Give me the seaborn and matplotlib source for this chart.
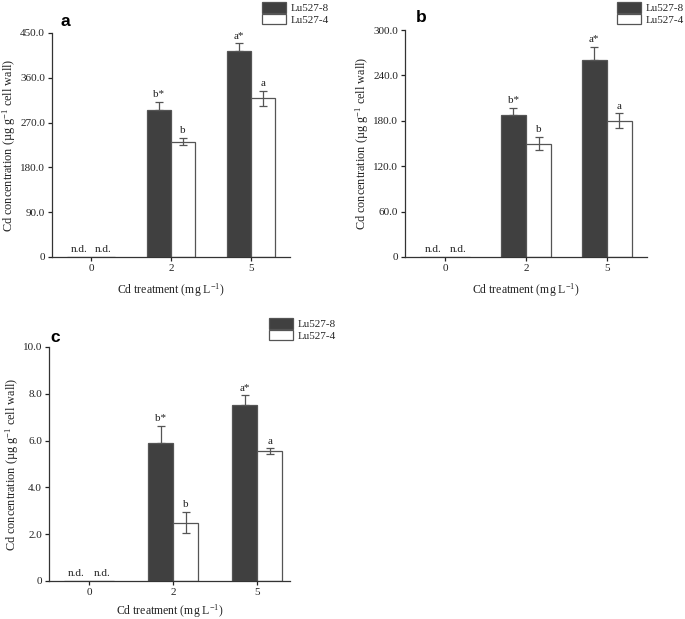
import numpy as np
import pandas as pd
import matplotlib
matplotlib.use("Agg")
import matplotlib.pyplot as plt
import matplotlib.patches as mpatches
import seaborn as sns

# Data
treatments = ["0", "2", "5"]
cultivars = ["Lu527-8", "Lu527-4"]

a_dark = [0, 296, 414]
a_dark_err = [0, 16, 15]
a_white = [0, 232, 319]
a_white_err = [0, 8, 15]
a_letters_dark = ["n.d.", "b*", "a*"]
a_letters_white = ["n.d.", "b", "a"]

b_dark = [0, 187.5, 261]
b_dark_err = [0, 10, 17]
b_white = [0, 150, 180]
b_white_err = [0, 9, 10]
b_letters_dark = ["n.d.", "b*", "a*"]
b_letters_white = ["n.d.", "b", "a"]

c_dark = [0, 5.88, 7.51]
c_dark_err = [0, 0.74, 0.42]
c_white = [0, 2.5, 5.54]
c_white_err = [0, 0.46, 0.13]
c_letters_dark = ["n.d.", "b*", "a*"]
c_letters_white = ["n.d.", "b", "a"]

sns.set_style("ticks")
plt.rcParams["font.family"] = ["Liberation Serif", "DejaVu Serif"]
plt.rcParams["mathtext.fontset"] = "custom"
plt.rcParams["mathtext.rm"] = "Liberation Serif"
plt.rcParams["mathtext.it"] = "Liberation Serif:italic"
plt.rcParams["axes.linewidth"] = 0.9

DARK = "#404040"
EDGE = "#555555"
TXT = "#222222"

fig = plt.figure(figsize=(6.85, 6.19), dpi=100)


def panel(rect, dark, dark_err, white, white_err, let_d, let_w, ymax, ystep,
          xlim, width, letter, letter_xy, leg_xy, xpad=6):
    ax = fig.add_axes(rect)
    df = pd.DataFrame({
        "treatment": treatments * 2,
        "cultivar": [cultivars[0]] * 3 + [cultivars[1]] * 3,
        "value": dark + white,
    })
    sns.barplot(data=df, x="treatment", y="value", hue="cultivar",
                palette={cultivars[0]: DARK, cultivars[1]: "white"},
                width=width, errorbar=None, edgecolor=EDGE, linewidth=0.9,
                saturation=1, legend=False, ax=ax)
    off = ymax * 0.012
    for cont, err, lets, dk in zip(ax.containers, [dark_err, white_err],
                                   [let_d, let_w], [True, False]):
        xs = [b.get_x() + b.get_width() / 2 for b in cont]
        ys = [b.get_height() for b in cont]
        e = np.array(err, dtype=float)
        lower = np.zeros_like(e) if dk else e
        mask = e > 0
        ax.errorbar(np.array(xs)[mask], np.array(ys)[mask],
                    yerr=[lower[mask], e[mask]], fmt="none",
                    ecolor=EDGE, elinewidth=0.9, capsize=3, capthick=0.9,
                    zorder=5)
        for x, y, ee, t in zip(xs, ys, e, lets):
            ax.text(x, y + ee + off, t, ha="center", va="bottom",
                    fontsize=8, color=TXT)
    ax.set_ylim(0, ymax)
    ax.set_xlim(*xlim)
    yt = np.arange(0, ymax + ystep / 2, ystep)
    ax.set_yticks(yt)
    ax.set_yticklabels(["0" if v == 0 else f"{v:.1f}" for v in yt])
    ax.tick_params(axis="both", direction="out", length=3, width=0.9,
                   labelsize=8, colors=TXT, pad=2)
    ax.set_xlabel("Cd treatment (mg L$^{-1}$)", fontsize=8.5, color=TXT,
                  labelpad=xpad)
    ax.set_ylabel("Cd concentration (µg g$^{-1}$ cell wall)", fontsize=8.8,
                  color=TXT, labelpad=1.5)
    for s in ["top", "right"]:
        ax.spines[s].set_visible(False)
    for s in ["left", "bottom"]:
        ax.spines[s].set_color("#333333")
    ax.text(letter_xy[0], letter_xy[1], letter, transform=ax.transAxes,
            fontsize=12.5, fontweight="bold", family="Liberation Sans",
            ha="left", va="bottom", color="black")
    handles = [mpatches.Patch(facecolor=DARK, edgecolor=EDGE, linewidth=0.9),
               mpatches.Patch(facecolor="white", edgecolor=EDGE, linewidth=0.9)]
    ax.legend(handles, cultivars, loc="upper left", bbox_to_anchor=leg_xy,
              bbox_transform=fig.transFigure, frameon=False, fontsize=8,
              handlelength=2.2, handleheight=1.1, handletextpad=0.35,
              labelspacing=0.05, borderpad=0, borderaxespad=0)
    return ax


panel([52 / 685, 1 - 257 / 619, 238 / 685, 224 / 619],
      a_dark, a_dark_err, a_white, a_white_err, a_letters_dark,
      a_letters_white, 450, 90, (-0.4875, 2.4875), 0.6, "a", (0.035, 1.02),
      (262 / 685, 1 - 2 / 619))
panel([405 / 685, 1 - 257 / 619, 242 / 685, 227 / 619],
      b_dark, b_dark_err, b_white, b_white_err, b_letters_dark,
      b_letters_white, 300, 60, (-0.5, 2.5), 0.62, "b", (0.045, 1.02),
      (617 / 685, 1 - 2 / 619))
panel([49 / 685, 1 - 581 / 619, 241 / 685, 234 / 619],
      c_dark, c_dark_err, c_white, c_white_err, c_letters_dark,
      c_letters_white, 10, 2, (-0.476, 2.39), 0.6, "c", (0.005, 1.01),
      (269 / 685, 1 - 318 / 619), xpad=4)

fig.savefig("out.png", dpi=100)
